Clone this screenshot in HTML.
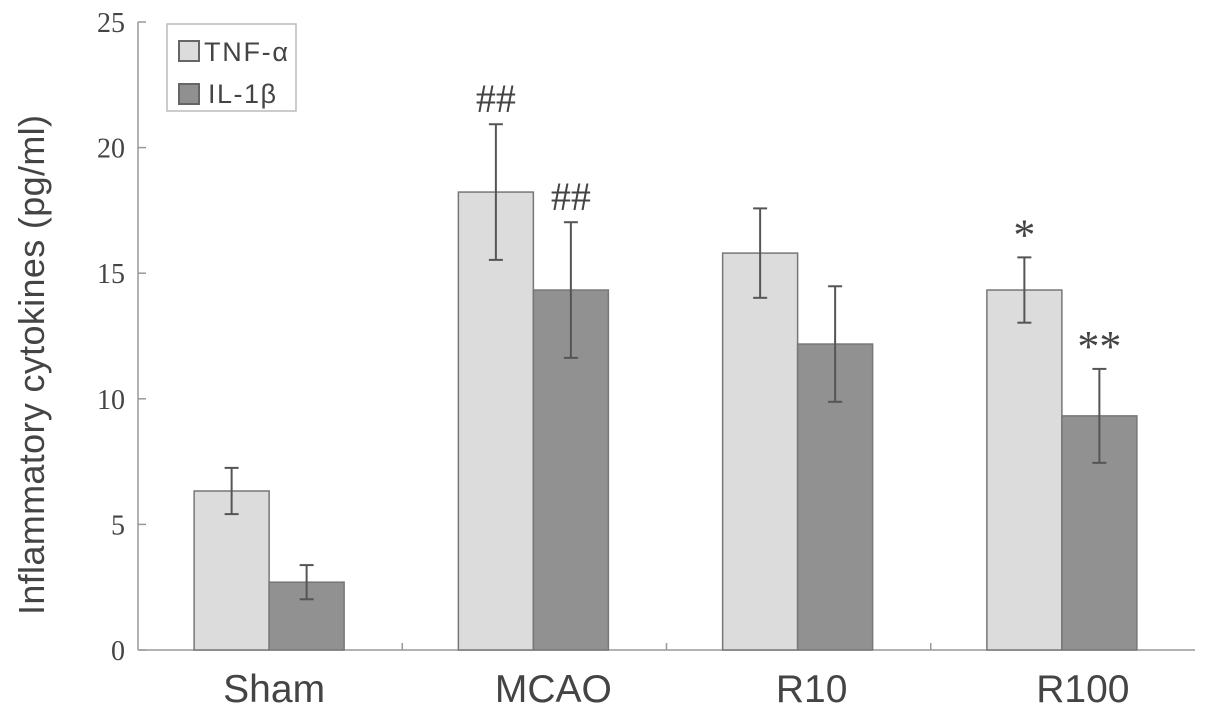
<!DOCTYPE html>
<html><head><meta charset="utf-8"><style>
body{margin:0;background:#fff}
svg text{fill:#444}
</style></head><body>
<svg width="1205" height="712" xmlns="http://www.w3.org/2000/svg">
<g id="axes"></g><g id="bars"></g>
<g>
<rect x="167" y="24" width="129" height="87" fill="#fff" stroke="#bbb" stroke-width="1.5"/>
<rect x="179" y="41" width="20" height="20" fill="#dcdcdc" stroke="#666" stroke-width="2"/>
<text x="204" y="61" font-family="Liberation Sans, sans-serif" font-size="27" textLength="84">TNF-α</text>
<rect x="179" y="84" width="20" height="20" fill="#909090" stroke="#666" stroke-width="2"/>
<text x="208" y="103" font-family="Liberation Sans, sans-serif" font-size="27" textLength="68">IL-1β</text>
</g>
<text transform="translate(44,365) rotate(-90)" text-anchor="middle" font-family="Liberation Sans, sans-serif" font-size="36" textLength="500" fill="#444">Inflammatory cytokines (pg/ml)</text>
</svg>
<script>
const categories=["Sham","MCAO","R10","R100"];
const tnf=[6.33,18.23,15.8,14.33];
const tnfErr=[0.92,2.7,1.78,1.3];
const il=[2.7,14.33,12.18,9.32];
const ilErr=[0.68,2.7,2.3,1.87];
const tnfMarks=["","##","","*"];
const ilMarks=["","##","","**"];
const yTicks=[0,5,10,15,20,25];
const NS="http://www.w3.org/2000/svg";
const x0=138,x1=1195,yBase=650,yTop=22,yMax=25;
const labelNudge=[5,20,14,21];
const y=v=>yBase-(v/yMax)*(yBase-yTop);
const gw=(x1-x0)/categories.length;
const gx=i=>x0+gw*(i+0.5);
function mk(p,tag,a){const e=document.createElementNS(NS,tag);for(const k in a)e.setAttribute(k,a[k]);p.appendChild(e);return e;}
const axes=document.getElementById('axes'),bars=document.getElementById('bars');
const ax=mk(axes,'line',{x1:x0,y1:yTop,x2:x0,y2:yBase,stroke:'#999','stroke-width':1.5});


const xa=mk(axes,'line',{x1:x0,y1:yBase,x2:x1,y2:yBase,stroke:'#999','stroke-width':1.5});


yTicks.forEach(t=>{
 const tk=mk(axes,'line',{x1:x0,y1:y(t),x2:x0+8,y2:y(t),stroke:'#999','stroke-width':1.5});
 
 
 const tl=mk(axes,'text',{x:125,y:y(t)+10,'text-anchor':'end','font-family':'Liberation Serif, serif','font-size':28,fill:'#666'});
 tl.textContent=t;
 
 
});
for(let i=1;i<categories.length;i++){
 const tk=mk(axes,'line',{x1:x0+gw*i,y1:yBase,x2:x0+gw*i,y2:yBase-7,stroke:'#999','stroke-width':1.5});
 
 
}
const bw=75;
categories.forEach((c,i)=>{
 const cx=gx(i)-1;
 const lab=mk(axes,'text',{x:cx+labelNudge[i],y:702,'text-anchor':'middle','font-family':'Liberation Sans, sans-serif','font-size':39,fill:'#333'});
 lab.textContent=c;
 
 
 [[tnf,tnfErr,tnfMarks,'#dcdcdc',-bw,'tnf'],[il,ilErr,ilMarks,'#919191',0,'il1b']].forEach(([vals,errs,marks,col,off,nm])=>{
  const v=vals[i],bx=cx+off;
  const r=mk(bars,'rect',{x:bx,y:y(v),width:bw,height:yBase-y(v),fill:col,stroke:'#777','stroke-width':1.5});
  
  
  const mx=bx+bw/2,t=y(v+errs[i]),b=y(v-errs[i]);
  const g=mk(bars,'g',{stroke:'#555','stroke-width':2});
  
  
  mk(g,'line',{x1:mx,y1:t,x2:mx,y2:b});
  mk(g,'line',{x1:mx-7,y1:t,x2:mx+7,y2:t});
  mk(g,'line',{x1:mx-7,y1:b,x2:mx+7,y2:b});
  if(marks[i]){
   const s=marks[i][0]==='*';
   const m=mk(bars,'text',{x:mx,y:t-(s?8:12),'text-anchor':'middle','font-family':'Liberation Serif, serif','font-size':s?44:40,fill:'#555'});
   m.textContent=marks[i];
   
   
  }
 });
});
</script>
</body></html>
